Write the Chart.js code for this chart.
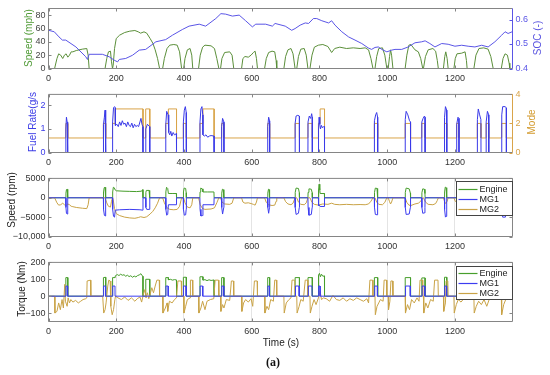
<!DOCTYPE html>
<html><head><meta charset="utf-8">
<script src="https://cdn.jsdelivr.net/npm/chart.js"></script>
<style>
html,body{margin:0;padding:0;background:#fff;}
body{width:550px;height:375px;position:relative;overflow:hidden;font-family:"Liberation Sans",Arial,sans-serif;}
canvas{position:absolute;left:0;}
.yl{position:absolute;white-space:nowrap;font-size:10px;line-height:10px;transform:translate(-50%,-50%) rotate(-90deg);}
.xl{position:absolute;white-space:nowrap;transform:translate(-50%,-50%);}
</style></head><body>
<canvas id="p1" width="550" height="86" style="top:0px"></canvas>
<canvas id="p2" width="550" height="84" style="top:86px"></canvas>
<canvas id="p3" width="550" height="84" style="top:170px"></canvas>
<canvas id="p4" width="550" height="121" style="top:254px"></canvas>
<div class="yl" style="left:29px;top:38px;color:#4f9a35">Speed (mph)</div>
<div class="yl" style="left:538px;top:38px;color:#5a55e0">SOC (-)</div>
<div class="yl" style="left:33px;top:122px;color:#3c3ce6">Fuel Rate(g/s</div>
<div class="yl" style="left:532px;top:122px;color:#d39b2f">Mode</div>
<div class="yl" style="left:12px;top:200px;color:#222">Speed (rpm)</div>
<div class="yl" style="left:22px;top:289px;color:#222">Torque (Nm)</div>
<div class="xl" style="left:281px;top:342px;font-size:10px;color:#222">Time (s)</div>
<div class="xl" style="left:273px;top:362px;font-size:12px;font-weight:bold;font-family:'Liberation Serif','DejaVu Serif',serif;color:#111">(a)</div>
<script>
// ---------- axis ticks ----------
const X_MAX = 1370;
const xTicks = [0,200,400,600,800,1000,1200];
const speedTicks = [0,20,40,60,80];
const speedTickLabels = ['0','20','40','60','80'];
const socTicks = [0.4,0.5,0.6];
const socTickLabels = ['0.4','0.5','0.6'];
const fuelTicks = [0,1,2];
const fuelTickLabels = ['0','1','2'];
const modeTicks = [0,2,4];
const modeTickLabels = ['0','2','4'];
const rpmTicks = [-10000,-5000,0,5000];
const rpmTickLabels = ['\u221210,000','\u22125000','0','5000'];
const tqTicks = [-100,0,100,200];
const tqTickLabels = ['\u2212100','0','100','200'];
const legendLabels = ['Engine','MG1','MG2'];

// ---------- series: [time (s), value] ----------
const vehSpeed = [[0,0],[18,0],[25,15],[30,22],[36,20],[42,15],[47,20],[52,22],[57,17],[62,20],[67,25],[72,25],[82,27],[100,29],[113,30],[117,20],[120,0],
[167,0],[172,15],[177,25],[183,26],[186,10],[189,0],[191,5],[195,30],[200,45],[210,50],[225,54],[240,56],[255,57],[265,55],[272,53],[282,55],[290,53],[300,45],[308,38],[315,28],[322,15],[328,0],
[337,0],[342,15],[350,30],[358,35],[370,36],[380,35],[387,25],[393,0],
[399,0],[403,15],[410,28],[418,30],[423,20],[426,0],
[443,0],[448,20],[455,32],[462,35],[480,34],[490,30],[497,15],[503,0],
[508,0],[512,15],[520,24],[535,25],[542,20],[547,0],
[570,0],[574,15],[580,18],[590,17],[598,20],[605,24],[610,26],[614,15],[617,0],
[638,0],[643,15],[650,24],[660,26],[668,25],[672,12],[674,0],
[695,0],[700,18],[707,28],[716,30],[722,22],[728,0],
[733,0],[738,18],[745,29],[755,30],[761,20],[766,0],
[772,0],[778,20],[785,32],[797,35],[810,36],[825,33],[836,24],[845,30],[860,32],[880,30],[900,31],[920,30],[935,31],[945,28],[952,15],[958,0],
[964,0],[969,18],[975,30],[986,31],[993,20],[999,0],
[1003,0],[1007,18],[1010,28],[1013,20],[1017,0],
[1053,0],[1058,20],[1064,35],[1070,36],[1082,28],[1092,25],[1099,15],[1105,0],
[1107,0],[1113,18],[1121,28],[1135,30],[1143,26],[1148,12],[1151,0],
[1166,0],[1170,18],[1173,25],[1177,15],[1180,0],
[1197,0],[1201,15],[1206,22],[1220,23],[1230,25],[1234,12],[1236,0],
[1256,0],[1262,20],[1271,30],[1285,31],[1298,29],[1306,18],[1313,0],
[1337,0],[1342,15],[1348,22],[1355,20],[1360,8],[1362,0],[1370,0]];

const soc = [[0,0.556],[17,0.550],[31,0.529],[41,0.516],[51,0.516],[81,0.488],[110,0.448],[115,0.437],[120,0.458],[159,0.458],[179,0.448],[194,0.434],[204,0.427],[209,0.437],[228,0.441],[248,0.454],[268,0.475],[287,0.478],[317,0.509],[346,0.518],[366,0.536],[395,0.559],[415,0.573],[445,0.581],[464,0.573],[494,0.604],[509,0.624],[523,0.622],[543,0.614],[563,0.618],[582,0.595],[602,0.570],[612,0.581],[641,0.581],[661,0.573],[669,0.584],[699,0.573],[718,0.556],[728,0.563],[743,0.577],[758,0.586],[768,0.584],[782,0.604],[792,0.604],[807,0.595],[827,0.586],[836,0.595],[846,0.577],[866,0.550],[886,0.529],[905,0.516],[925,0.502],[944,0.484],[954,0.478],[964,0.486],[974,0.488],[984,0.478],[999,0.468],[1013,0.475],[1023,0.478],[1043,0.478],[1062,0.488],[1082,0.505],[1102,0.509],[1112,0.513],[1126,0.502],[1141,0.488],[1161,0.502],[1180,0.499],[1200,0.491],[1220,0.495],[1239,0.491],[1259,0.488],[1279,0.495],[1298,0.488],[1318,0.509],[1338,0.536],[1348,0.550],[1357,0.543],[1369,0.550]];

const fuelRate = [[0,0],[51,0],[51.3,1.0],[53,1.5],[55,1.3],[56.5,1.1],[56.8,0],
[162,0],[162.3,1.2],[165,1.5],[167,1.8],[168.7,1.6],[169,0],
[189,0],[189.3,1.3],[192,1.9],[195,1.95],[197,1.9],[197.5,1.15],[202,1.2],[206,1.1],[210,1.3],[214,1.15],[218,1.35],[222,1.2],[226,1.25],[230,1.1],[234,1.3],[238,1.15],[242,1.1],[246,1.25],[250,1.05],[254,1.2],[258,1.1],[262,1.15],[266,1.1],[270,1.3],[273,1.45],[276,1.2],[278.5,1.1],[279,0],
[287,0],[287.3,1.0],[292,1.2],[298.7,1.1],[299,0],
[346,0],[346.3,1.2],[349,1.75],[353,1.6],[355,0.85],[358,0.75],[361,0.9],[364,0.7],[368,0.85],[372,0.75],[377.7,0.8],[378,0],
[398,0],[398.3,1.3],[401,1.8],[404,1.95],[406.7,1.7],[407,0],
[447,0],[447.3,1.3],[450,1.85],[453,1.95],[455.5,1.6],[456,0.75],[460,0.7],[465,0.75],[470,0.65],[475,0.7],[480,0.72],[488.7,0.7],[489,0],
[511,0],[511.3,1.1],[514,1.45],[517.7,1.3],[518,0],
[647,0],[647.3,1.1],[650,1.5],[652.7,1.35],[653,0],
[728,0],[728.3,1.25],[731,1.55],[736,1.58],[740.7,1.55],[741,0],
[766,0],[766.3,1.3],[770,1.55],[774,1.45],[777,1.65],[778.7,1.5],[779,0],
[797,0],[797.3,1.0],[799,1.5],[801,1.2],[803,1.0],[806,1.15],[809,1.05],[812,1.1],[814.7,1.1],[815,0],
[962,0],[962.3,1.35],[966,1.6],[969,1.7],[971.7,1.5],[972,0],
[1053,0],[1053.3,1.4],[1056,1.75],[1061,1.6],[1066,1.35],[1068.7,1.3],[1069,0],
[1102,0],[1102.3,1.3],[1106,1.45],[1110,1.55],[1111.7,1.5],[1112,0],
[1169,0],[1169.3,1.5],[1172,1.95],[1175.7,1.8],[1176,0],
[1205,0],[1205.3,1.2],[1209,1.5],[1211.7,1.45],[1212,0],
[1266,0],[1266.3,1.4],[1269,1.85],[1273,1.6],[1276.7,1.4],[1277,0],
[1292,0],[1292.3,1.3],[1296,1.75],[1299.7,1.6],[1300,0],
[1338,0],[1338.3,1.6],[1341,1.95],[1348,1.95],[1351.7,1.9],[1352,0],[1370,0]];

const mode = [[0,1],[51,1],[51,2],[57,2],[57,1],[162,1],[162,2],[169,2],[169,1],
[189,1],[189,2],[197,2],[197,3],[279,3],[279,1],[287,1],[287,3],[299,3],[299,1],
[346,1],[346,2],[354,2],[354,3],[378,3],[378,1],[398,1],[398,2],[407,2],[407,1],
[447,1],[447,2],[456,2],[456,3],[489,3],[489,1],[511,1],[511,2],[518,2],[518,1],
[647,1],[647,2],[653,2],[653,1],[728,1],[728,2],[741,2],[741,1],[766,1],[766,2],[779,2],[779,1],
[797,1],[797,2],[802,2],[802,3],[815,3],[815,1],[962,1],[962,2],[972,2],[972,1],
[1053,1],[1053,2],[1069,2],[1069,1],[1102,1],[1102,2],[1112,2],[1112,1],[1169,1],[1169,2],[1176,2],[1176,1],
[1205,1],[1205,2],[1212,2],[1212,1],[1266,1],[1266,2],[1277,2],[1277,1],[1292,1],[1292,2],[1300,2],[1300,1],
[1338,1],[1338,2],[1352,2],[1352,1],[1370,1]];

const engSpeed = [[0,0],[51,0],[51.5,1200],[53,2100],[55,2200],[56.5,1000],[57,0],
[162,0],[162.5,1500],[164.5,2600],[167,2700],[168.5,1500],[169,0],
[189,0],[189.5,1500],[191.5,2700],[194,2600],[197,2000],[200,1800],[220,1700],[240,1650],[260,1600],[275,1700],[278,2100],[279,0],
[287,0],[287.5,1400],[289,1900],[297,1900],[298.5,1500],[299,0],
[346,0],[346.5,1500],[348.5,2700],[352,2400],[354,1100],[365,1100],[377.5,1100],[378,0],
[398,0],[398.5,1500],[400.5,2500],[405,2400],[406.5,1300],[407,0],
[447,0],[447.5,1500],[449.5,2500],[454,2300],[456,1500],[470,1500],[488.5,1500],[489,0],
[511,0],[511.5,1200],[513.5,2200],[516,2100],[517.5,1000],[518,0],
[647,0],[647.5,1200],[649.5,2200],[651.5,2100],[652.5,1000],[653,0],
[728,0],[728.5,1400],[731,2500],[738,2400],[740.5,1300],[741,0],
[766,0],[766.5,1400],[769,2300],[776,2200],[778.5,1300],[779,0],
[797,0],[797.3,2000],[799,3500],[801,2000],[802,1100],[814.5,1100],[815,0],
[962,0],[962.5,1400],[965,2500],[970,2400],[971.5,1200],[972,0],
[1053,0],[1053.5,1400],[1056,2500],[1065,2300],[1068.5,1200],[1069,0],
[1102,0],[1102.5,1300],[1105,2300],[1110,2200],[1111.5,1100],[1112,0],
[1169,0],[1169.5,1500],[1171.5,2750],[1174,2600],[1175.5,1300],[1176,0],
[1205,0],[1205.5,1300],[1208,2200],[1211.5,1100],[1212,0],
[1266,0],[1266.5,1400],[1269,2500],[1275,2400],[1276.5,1200],[1277,0],
[1292,0],[1292.5,1400],[1295,2400],[1299.5,1200],[1300,0],
[1338,0],[1338.5,1500],[1341,2700],[1349,2600],[1351.5,1400],[1352,0],[1370,0]];

const mg1Speed = [[0,0],[51,0],[51.5,-2500],[53,-4000],[55,-4200],[56.5,-2500],[57,0],
[162,0],[162.5,-3000],[165,-4500],[167,-4700],[168.5,-3000],[169,0],
[189,0],[189.5,-3000],[192,-4800],[195,-5000],[197,-3200],[210,-3100],[240,-3000],[270,-3100],[278,-3200],[279,0],
[287,0],[287.5,-2500],[290,-3000],[298.5,-3000],[299,0],
[346,0],[346.5,-3000],[349,-4500],[352,-4300],[354,-1800],[377.5,-1800],[378,0],
[398,0],[398.5,-3000],[401,-4500],[405,-4400],[406.5,-3000],[407,0],
[447,0],[447.5,-3000],[450,-4700],[454,-4600],[456,-1800],[488.5,-1800],[489,0],
[511,0],[511.5,-2500],[514,-4200],[517.5,-2500],[518,0],
[647,0],[647.5,-2500],[650,-4000],[652.5,-2500],[653,0],
[728,0],[728.5,-2500],[731,-4300],[738,-4000],[740.5,-2500],[741,0],
[766,0],[766.5,-2500],[769,-4500],[776,-4300],[778.5,-2500],[779,0],
[797,0],[797.3,-2000],[799,-1800],[802,-2250],[814.5,-2250],[815,0],
[962,0],[962.5,-2500],[965,-4300],[970,-4400],[971.5,-2500],[972,0],
[1053,0],[1053.5,-2500],[1056,-4300],[1065,-4200],[1068.5,-2500],[1069,0],
[1102,0],[1102.5,-2500],[1105,-4000],[1110,-3900],[1111.5,-2500],[1112,0],
[1169,0],[1169.5,-3000],[1172,-5000],[1174,-4800],[1175.5,-3000],[1176,0],
[1205,0],[1205.5,-2500],[1208,-4000],[1211.5,-2500],[1212,0],
[1266,0],[1266.5,-2500],[1269,-4300],[1275,-4200],[1276.5,-2500],[1277,0],
[1292,0],[1292.5,-2500],[1295,-4300],[1299.5,-2500],[1300,0],
[1338,0],[1338.5,-3000],[1341,-5000],[1349,-5000],[1351.5,-3000],[1352,0],[1370,0]];

const mg2Speed = [[0,0],[18,0],[25,-1300],[30,-1900],[36,-1800],[42,-1400],[47,-1800],[52,-2000],[57,-1600],[62,-1800],[67,-2200],[72,-2300],[82,-2500],[100,-2700],[113,-2800],[117,-1800],[120,0],
[167,0],[172,-1300],[177,-2200],[183,-2400],[186,-900],[189,0],[191,-500],[195,-2800],[200,-4100],[210,-4600],[225,-5000],[240,-5200],[255,-5300],[265,-5100],[272,-4900],[282,-5100],[290,-4900],[300,-4200],[308,-3500],[315,-2600],[322,-1400],[328,0],
[337,0],[342,-1300],[350,-2600],[358,-3000],[370,-3100],[380,-3000],[387,-2200],[393,0],
[399,0],[403,-1300],[410,-2400],[418,-2600],[423,-1800],[426,0],
[443,0],[448,-1800],[455,-2800],[462,-3000],[480,-2900],[490,-2600],[497,-1300],[503,0],
[508,0],[512,-1100],[520,-1600],[535,-1700],[542,-1400],[547,0],
[570,0],[574,-1100],[580,-1400],[590,-1300],[598,-1500],[605,-1700],[610,-1900],[614,-1100],[617,0],
[638,0],[643,-1200],[650,-1800],[660,-2000],[668,-1900],[672,-900],[674,0],
[695,0],[700,-1000],[707,-1600],[716,-1800],[722,-1400],[728,0],
[733,0],[738,-1100],[745,-1700],[755,-1800],[761,-1300],[766,0],
[772,0],[778,-1200],[785,-1700],[797,-1900],[810,-1600],[825,-1700],[836,-1400],[845,-1700],[860,-1800],[880,-1700],[900,-1800],[920,-1750],[935,-1800],[945,-1600],[952,-900],[958,0],
[964,0],[969,-1100],[975,-1700],[986,-1800],[993,-1200],[999,0],
[1003,0],[1007,-1000],[1010,-1600],[1013,-1100],[1017,0],
[1053,0],[1058,-1200],[1064,-1900],[1070,-2000],[1082,-1600],[1092,-1400],[1099,-900],[1105,0],
[1107,0],[1113,-1100],[1121,-1700],[1135,-1800],[1143,-1500],[1148,-700],[1151,0],
[1166,0],[1170,-1100],[1173,-1500],[1177,-900],[1180,0],
[1197,0],[1201,-900],[1206,-1300],[1220,-1400],[1230,-1500],[1234,-700],[1236,0],
[1256,0],[1262,-1200],[1271,-1800],[1285,-1850],[1298,-1700],[1306,-1100],[1313,0],
[1337,0],[1342,-900],[1348,-1300],[1355,-1200],[1360,-500],[1362,0],[1370,0]];

const engTorque = [[0,0],[51,0],[51.2,110],[56.8,110],[57,0],
[162,0],[162.2,110],[168.8,112],[169,0],
[189,0],[189.2,110],[196.8,110],[197,120],[203,128],[208,122],[213,130],[218,124],[223,127],[228,118],[233,124],[238,116],[243,121],[248,112],[253,119],[258,114],[263,122],[268,126],[273,133],[276,122],[278.8,118],[279,0],
[287,0],[287.2,100],[298.8,100],[299,0],
[346,0],[346.2,110],[353.8,110],[354,97],[360,100],[366,95],[372,98],[377.8,96],[378,0],
[398,0],[398.2,112],[406.8,112],[407,0],
[447,0],[447.2,115],[455.8,115],[456,95],[462,98],[468,92],[474,97],[480,93],[488.8,96],[489,0],
[511,0],[511.2,110],[517.8,110],[518,0],
[647,0],[647.2,110],[652.8,110],[653,0],
[728,0],[728.2,110],[740.8,110],[741,0],
[766,0],[766.2,110],[778.8,110],[779,0],
[797,0],[797.2,125],[800,135],[803,115],[806,130],[810,118],[814.8,120],[815,0],
[962,0],[962.2,110],[971.8,110],[972,0],
[1053,0],[1053.2,110],[1068.8,110],[1069,0],
[1102,0],[1102.2,108],[1111.8,108],[1112,0],
[1169,0],[1169.2,112],[1175.8,112],[1176,0],
[1205,0],[1205.2,105],[1211.8,105],[1212,0],
[1266,0],[1266.2,110],[1276.8,110],[1277,0],
[1292,0],[1292.2,105],[1299.8,105],[1300,0],
[1338,0],[1338.2,110],[1351.8,110],[1352,0],[1370,0]];

const mg1Torque = [[0,0],[51.5,0],[51.7,60],[56.3,60],[56.5,0],
[162.5,0],[162.7,60],[168.3,60],[168.5,0],
[189.5,0],[189.7,60],[196.3,60],[196.5,0],
[346.5,0],[346.7,60],[353.3,60],[353.5,0],
[398.5,0],[398.7,60],[406.3,60],[406.5,0],
[447.5,0],[447.7,60],[455.3,60],[455.5,0],
[511.5,0],[511.7,60],[517.3,60],[517.5,0],
[647.5,0],[647.7,60],[652.3,60],[652.5,0],
[729,0],[729.2,60],[740,60],[740.2,0],
[767,0],[767.2,60],[778,60],[778.2,0],
[797.5,0],[797.7,60],[801.8,60],[802,0],
[963,0],[963.2,60],[971,60],[971.2,0],
[1054,0],[1054.2,60],[1068,60],[1068.2,0],
[1103,0],[1103.2,60],[1111,60],[1111.2,0],
[1169.5,0],[1169.7,60],[1175.3,60],[1175.5,0],
[1205.5,0],[1205.7,60],[1211.3,60],[1211.5,0],
[1267,0],[1267.2,60],[1276,60],[1276.2,0],
[1293,0],[1293.2,60],[1299,60],[1299.2,0],
[1339,0],[1339.2,60],[1351,60],[1351.2,0],[1370,0]];

const mg2Torque = [[0,0],[18,0],[19,-100],[25,-90],[30,-40],[35,-80],[40,-20],[44,-70],[48,70],[50,-30],[55,-60],[58,-10],[62,-40],[66,-20],[72,-35],[80,-25],[88,-40],[95,-30],[102,-20],[110,-15],[113,-10],[114,90],[124,95],[125,0],
[160,0],[163,-100],[167,-80],[170,-40],[175,60],[178,95],[182,90],[184,-60],[188,-110],[192,-80],[196,-20],[198,0],[205,-10],[215,-20],[225,-5],[235,-25],[245,-10],[255,-30],[262,-15],[270,-5],[275,-35],[280,10],[285,40],[288,-10],[292,20],[296,-15],[300,10],[305,50],[310,20],[315,60],[320,95],[327,95],[328,0],
[337,0],[338,-100],[345,-70],[350,-40],[352,-90],[357,-30],[365,-40],[372,-20],[378,-10],[382,90],[392,90],[393,0],
[399,0],[400,-100],[405,-60],[410,-20],[418,-10],[419,95],[425,95],[426,0],
[443,0],[444,-100],[450,-70],[455,-30],[462,-80],[468,-30],[478,-20],[488,-15],[492,95],[502,95],[503,0],
[508,0],[509,-90],[514,-50],[518,-70],[525,-20],[535,-25],[540,90],[546,90],[547,0],
[570,0],[571,-90],[576,-40],[582,-20],[590,-35],[598,-15],[603,-60],[608,90],[616,90],[617,0],
[638,0],[639,-100],[645,-60],[650,-80],[656,-20],[664,-30],[668,95],[673,95],[674,0],
[695,0],[696,-100],[702,-40],[710,-20],[716,-10],[719,95],[727,95],[728,0],
[733,0],[734,-100],[740,-60],[745,-20],[752,-30],[758,95],[765,95],[766,0],
[772,0],[773,-100],[778,-60],[784,-20],[790,-50],[797,-10],[802,30],[806,-20],[812,-10],[820,-15],[830,-30],[840,5],[850,-20],[860,-25],[870,-10],[880,-30],[890,-15],[900,-25],[910,-10],[920,-20],[930,-30],[940,-15],[945,-40],[949,95],[957,95],[958,0],
[964,0],[965,-110],[970,-60],[975,-40],[980,-20],[988,-30],[991,95],[998,95],[999,0],
[1003,0],[1004,-80],[1008,-30],[1011,90],[1016,90],[1017,0],
[1053,0],[1054,-100],[1060,-50],[1066,-80],[1072,-20],[1080,-40],[1088,-10],[1094,-30],[1097,95],[1104,95],[1105,0],
[1107,0],[1108,-100],[1114,-40],[1120,-70],[1128,-20],[1136,-30],[1140,95],[1150,95],[1151,0],
[1166,0],[1167,-90],[1172,-40],[1174,90],[1179,90],[1180,0],
[1197,0],[1198,-100],[1204,-50],[1210,-20],[1218,-35],[1226,-15],[1228,95],[1235,95],[1236,0],
[1256,0],[1257,-100],[1263,-60],[1270,-30],[1278,-50],[1286,-20],[1294,-60],[1302,-15],[1304,95],[1312,95],[1313,0],
[1337,0],[1338,-110],[1344,-50],[1350,-20],[1354,95],[1361,95],[1362,0],[1370,0]];

// ---------- colours ----------
const C_SPEED='#5b8f3a', C_SOC='#5a55e6', C_FUEL='#3a3ae8', C_MODE='#d9a44a';
const C_ENG='#479e2c', C_MG1='#3c3cf0', C_MG2='#c9a347', C_GRAY='#858585';
const FONT = {family:"'Liberation Sans', Arial, sans-serif", size:9};
const legendColors = [C_ENG, C_MG1, C_MG2];

// legend geometry per canvas (kept outside the Chart.js option resolver)
const LEGENDS = {
  p3:{dx:0.5,dy:2.5,w:56,h:34,row0:7,rowH:10},
  p4:{dx:0.5,dy:3.5,w:56,h:33,row0:6,rowH:10}
};

// ---------- plugins ----------
const boxPlugin = {id:'box', afterDatasetsDraw(chart, args, o){
  const {ctx, chartArea:a, scales} = chart;
  ctx.save(); ctx.lineWidth = 1;
  const L=(x1,y1,x2,y2,c)=>{ctx.strokeStyle=c;ctx.beginPath();ctx.moveTo(x1,y1);ctx.lineTo(x2,y2);ctx.stroke();};
  const g=C_GRAY, lc=o.left||g, rc=o.right||g;
  scales.x.ticks.forEach(t=>{const px=Math.round(scales.x.getPixelForValue(t.value))+0.5;L(px,a.bottom,px,a.bottom-3,g);L(px,a.top,px,a.top+3,g);});
  const yl=scales.y, yr=scales.y2;
  yl.ticks.forEach(t=>{const py=Math.round(yl.getPixelForValue(t.value))+0.5;L(a.left,py,a.left+3,py,lc);if(!yr)L(a.right,py,a.right-3,py,rc);});
  if(yr) yr.ticks.forEach(t=>{const py=Math.round(yr.getPixelForValue(t.value))+0.5;L(a.right,py,a.right-3,py,rc);});
  L(a.left,a.top,a.right,a.top,g);L(a.left,a.bottom,a.right,a.bottom,g);
  L(a.left,a.top,a.left,a.bottom,lc);L(a.right,a.top,a.right,a.bottom,rc);
  ctx.restore();
}};
const legendPlugin = {id:'mlegend', afterDraw(chart){
  const o = LEGENDS[chart.canvas.id];
  if(!o) return;
  const {ctx, chartArea:a} = chart;
  const x0=Math.round(a.right-o.dx-o.w)+0.5, y0=Math.round(a.top+o.dy)+0.5;
  ctx.save();
  ctx.fillStyle='#fff'; ctx.fillRect(x0,y0,o.w,o.h);
  ctx.strokeStyle='#444'; ctx.lineWidth=1; ctx.strokeRect(x0,y0,o.w,o.h);
  ctx.font="9px 'Liberation Sans', Arial, sans-serif"; ctx.textBaseline='middle'; ctx.textAlign='left';
  legendLabels.forEach((label,i)=>{
    const y=Math.round(y0+o.row0+i*o.rowH)+0.5;
    ctx.strokeStyle=legendColors[i]; ctx.lineWidth=1.2;
    ctx.beginPath(); ctx.moveTo(x0+2,y); ctx.lineTo(x0+21,y); ctx.stroke();
    ctx.fillStyle='#222'; ctx.fillText(label, x0+23, y+0.5);
  });
  ctx.restore();
}};

// ---------- helpers ----------
const ds=(pairs,color,axis,order)=>({data:pairs.map(p=>({x:p[0],y:p[1]})),borderColor:color,borderWidth:1,pointRadius:0,tension:0,fill:false,yAxisID:axis,order});
function xScale(h,grid){
  return {type:'linear',position:'bottom',min:0,max:X_MAX,
    afterBuildTicks:s=>{s.ticks=xTicks.map(v=>({value:v}));},
    afterFit:s=>{s.height=h;},
    ticks:{font:FONT,color:'#333',padding:5,maxRotation:0,autoSkip:false,callback:v=>String(v)},
    grid:{display:grid,color:'#e4e4e4',drawTicks:false},border:{display:false}};
}
function yScale(pos,min,max,ticks,labels,color,w){
  return {type:'linear',position:pos,min,max,
    afterBuildTicks:s=>{s.ticks=ticks.map(v=>({value:v}));},
    afterFit:s=>{s.width=w;},
    ticks:{font:FONT,color,padding:3,autoSkip:false,callback:(v)=>labels[ticks.indexOf(v)]},
    grid:{display:false,drawTicks:false},border:{display:false}};
}
function mk(id,datasets,scales,pad,box){
  return new Chart(document.getElementById(id),{type:'line',data:{datasets},
    options:{responsive:false,animation:false,events:[],layout:{padding:pad},
      plugins:{legend:{display:false},tooltip:{enabled:false},box:box},scales},
    plugins:[boxPlugin,legendPlugin]});
}
const LW=48.5, RW=37.5;

mk('p1',[ds(vehSpeed,C_SPEED,'y',1),ds(soc,C_SOC,'y2',0)],
  {x:xScale(17.5,false),y:yScale('left',0,90,speedTicks,speedTickLabels,'#444',LW),y2:yScale('right',0.4,0.645,socTicks,socTickLabels,C_SOC,RW)},
  {top:8.5,right:0,left:0,bottom:0},{right:C_SOC});
mk('p2',[ds(fuelRate,C_FUEL,'y',0),ds(mode,C_MODE,'y2',1)],
  {x:xScale(17.5,false),y:yScale('left',0,2.47,fuelTicks,fuelTickLabels,C_FUEL,LW),y2:yScale('right',0,4,modeTicks,modeTickLabels,C_MODE,RW)},
  {top:6.5,right:0,left:0,bottom:0},{right:C_MODE});
mk('p3',[ds(engSpeed,C_ENG,'y',2),ds(mg1Speed,C_MG1,'y',0),ds(mg2Speed,C_MG2,'y',1)],
  {x:xScale(17.5,true),y:yScale('left',-10000,5000,rpmTicks,rpmTickLabels,'#333',LW)},
  {top:6.5,right:RW,left:0,bottom:0},{});
mk('p4',[ds(engTorque,C_ENG,'y',2),ds(mg1Torque,C_MG1,'y',0),ds(mg2Torque,C_MG2,'y',1)],
  {x:xScale(53.5,true),y:yScale('left',-150,200,tqTicks,tqTickLabels,'#333',LW)},
  {top:6.5,right:RW,left:0,bottom:0},{});
</script>
</body></html>
